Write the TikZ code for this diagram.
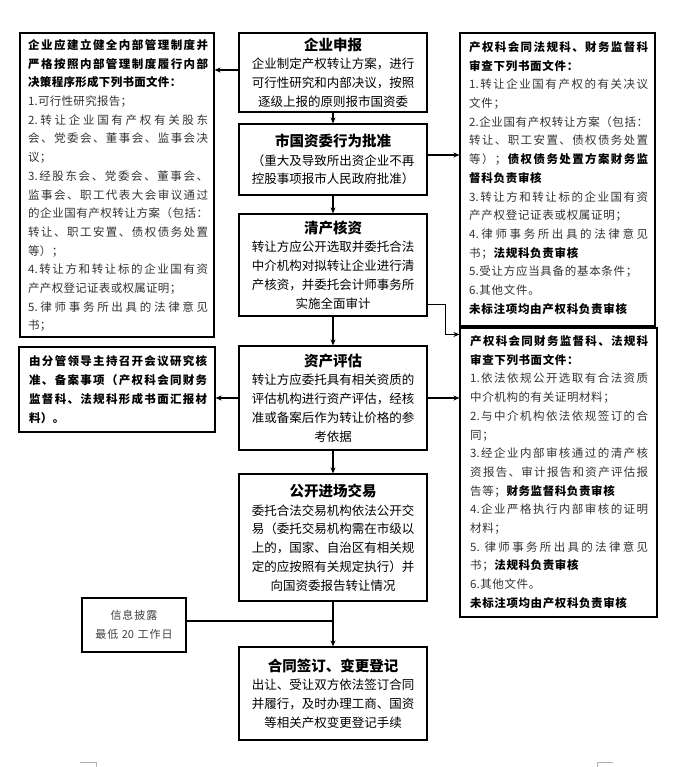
\documentclass[tikz,border=0pt]{standalone}
\usepackage{fontspec}
\setmainfont{Noto Sans CJK SC}
\usetikzlibrary{arrows.meta}
\newdimen\jw
\newdimen\jgap
\jgap=0.3pt
\def\jB{}
\def\jEnd{}
\def\jBm{\jB}
\def\jEndm{\jEnd}
\def\jloop#1{\def\jarg{#1}%
  \ifx\jarg\jEndm \let\jnext\relax
  \else\ifx\jarg\jBm \bfseries\color{black}\let\jnext\jloop
  \else \jsep #1\let\jsep\jglue \let\jnext\jloop
  \fi\fi\jnext}
\newcommand\jline[1]{\hbox to \jw{\def\jglue{\hfil}\let\jsep\relax\jloop#1\jEnd}}
\newcommand\jshort[1]{\hbox{\def\jglue{\kern\jgap}\let\jsep\relax\jloop#1\jEnd}}
\newcommand\ttl{\fontsize{14.5}{18.8}\selectfont\bfseries}
\tikzset{
  cbox/.style={draw, line width=1.2pt, minimum width=188pt, text width=178pt, align=center, inner sep=0pt, font=\fontsize{12.5}{18.8}\selectfont},
  sbox/.style={draw, line width=1.1pt, inner sep=0pt},
  stext/.style={anchor=base west, inner sep=0pt, text=black!80, font=\fontsize{11.5}{18.7}\selectfont},
  arr/.style={line width=1.2pt, -{Stealth[length=6pt,width=5pt]}},
  conn/.style={line width=1.2pt},
  cornermark/.style={draw=gray!60, line width=0.6pt}
}
\begin{document}
\begin{tikzpicture}[x=1pt,y=-1pt]
\useasboundingbox (0,0) rectangle (696,767);
% center boxes
\node[cbox, minimum height=79pt] (qy) at (333,72.5) {{\ttl 企业申报}\\企业制定产权转让方案，进行\\可行性研究和内部决议，按照\\逐级上报的原则报市国资委};
\node[cbox, minimum height=71pt] (sz) at (333,159.5) {{\ttl 市国资委行为批准}\\（重大及导致所出资企业不再\\控股事项报市人民政府批准）};
\node[cbox, minimum height=102pt] (qc) at (333,265) {{\ttl 清产核资}\\转让方应公开选取并委托合法\\中介机构对拟转让企业进行清\\产核资，并委托会计师事务所\\实施全面审计};
\node[cbox, minimum height=104pt] (zc) at (333,398) {{\ttl 资产评估}\\转让方应委托具有相关资质的\\评估机构进行资产评估，经核\\准或备案后作为转让价格的参\\考依据};
\node[cbox, minimum height=127pt] (gk) at (333,537.5) {{\ttl 公开进场交易}\\委托合法交易机构依法公开交\\易（委托交易机构需在市级以\\上的，国家、自治区有相关规\\定的应按照有关规定执行）并\\向国资委报告转让情况};
\node[cbox, minimum height=93pt] (ht) at (333,693.5) {{\ttl 合同签订、变更登记}\\出让、受让双方依法签订合同\\并履行，及时办理工商、国资\\等相关产权变更登记手续};
% side boxes
\node[sbox, minimum width=194pt, minimum height=304pt] (l1) at (117,185) {};
\node[sbox, minimum width=196pt, minimum height=85pt] (l2) at (117,389.5) {};
\node[sbox, minimum width=195pt, minimum height=293pt] (r1) at (557.5,179.5) {};
\node[sbox, minimum width=197pt, minimum height=289pt] (r2) at (558.5,472.5) {};
\node[sbox, minimum width=104pt, minimum height=54pt, text=black!75, font=\fontsize{11}{19}\selectfont] (xx) at (134,625) {\jgap=1pt\vbox{\baselineskip=19pt\hbox to 104pt{\hss\jshort{信息披露}\hss}\hbox to 104pt{\hss\jshort{最低{\ 20\ }工作日}\hss}}};
% side texts
\node[stext] (t1) at (28,49.5) {\jw=180pt\vtop{%
\jline{\jB 企业应建立健全内部管理制度并}
\jline{\jB 严格按照内部管理制度履行内部}
\jshort{\jB 决策程序形成下列书面文件：}
\jshort{{1.}可行性研究报告；}
\jline{{2.}转让企业国有产权有关股东}
\jline{会、党委会、董事会、监事会决}
\jshort{议；}
\jline{{3.}经股东会、党委会、董事会、}
\jline{监事会、职工代表大会审议通过}
\jline{的企业国有产权转让方案（包括：}
\jline{转让、职工安置、债权债务处置}
\jshort{等）；}
\jline{{4.}转让方和转让标的企业国有资}
\jshort{产产权登记证表或权属证明；}
\jline{{5.}律师事务所出具的法律意见}
\jshort{书；}}};
\node[stext, font=\fontsize{11.5}{19}\selectfont] (t2) at (29,365.5) {\jw=178pt\vtop{%
\jline{\jB 由分管领导主持召开会议研究核}
\jline{\jB 准、备案事项（产权科会同财务}
\jline{\jB 监督科、法规科形成书面汇报材}
\jshort{\jB 料）。}}};
\node[stext] (t3) at (469,51.5) {\jw=179pt\jgap=0.7pt\vtop{%
\jline{\jB 产权科会同法规科、财务监督科}
\jshort{\jB 审查下列书面文件：}
\jline{{1.}转让企业国有产权的有关决议}
\jshort{文件；}
\jline{{2.}企业国有产权转让方案（包括：}
\jline{转让、职工安置、债权债务处置}
\jline{等）；\jB 债权债务处置方案财务监}
\jshort{\jB 督科负责审核}
\jline{{3.}转让方和转让标的企业国有资}
\jshort{产产权登记证表或权属证明；}
\jline{{4.}律师事务所出具的法律意见}
\jshort{书；\jB 法规科负责审核}
\jshort{{5.}受让方应当具备的基本条件；}
\jshort{{6.}其他文件。}
\jshort{\jB 未标注项均由产权科负责审核}}};
\node[stext] (t4) at (470,345.5) {\jw=178pt\jgap=0.6pt\vtop{%
\jline{\jB 产权科会同财务监督科、法规科}
\jshort{\jB 审查下列书面文件：}
\jline{{1.}依法依规公开选取有合法资质}
\jshort{中介机构的有关证明材料；}
\jline{{2.}与中介机构依法依规签订的合}
\jshort{同；}
\jline{{3.}经企业内部审核通过的清产核}
\jline{资报告、审计报告和资产评估报}
\jshort{告等；\jB 财务监督科负责审核}
\jline{{4.}企业严格执行内部审核的证明}
\jshort{材料；}
\jline{{5.\ }律师事务所出具的法律意见}
\jshort{书；\jB 法规科负责审核}
\jshort{{6.}其他文件。}
\jshort{\jB 未标注项均由产权科负责审核}}};
% connectors
\coordinate (a1) at ([yshift=2.5pt]qy.west);
\coordinate (a3) at ([yshift=4.5pt]sz.east);
\coordinate (a5) at ([yshift=12pt]qc.south east);
\coordinate (b5) at ([yshift=-7pt]r2.north west);
\coordinate (a11) at ([yshift=4pt]xx.east);
\draw[arr] (a1) -- (a1 -| l1.east);
\draw[arr] (qy.south) -- (sz.north);
\draw[arr] (a3) -- (a3 -| r1.west);
\draw[arr] (sz.south) -- (qc.north);
\draw[arr] (a5) -- ++(18,0) |- (b5);
\draw[arr] (qc.south) -- (zc.north);
\draw[arr] (zc.west) -- (zc.west -| l2.east);
\draw[arr] (zc.east) -- (zc.east -| r2.west);
\draw[arr] (zc.south) -- (gk.north);
\draw[arr] (gk.south) -- (ht.north);
\draw[conn] (a11) -- (a11 -| gk.south);
% page corner marks
\draw[cornermark] (80,762) -- (96,762) -- (96,767);
\draw[cornermark] (613,762) -- (597,762) -- (597,767);
\end{tikzpicture}
\end{document}
